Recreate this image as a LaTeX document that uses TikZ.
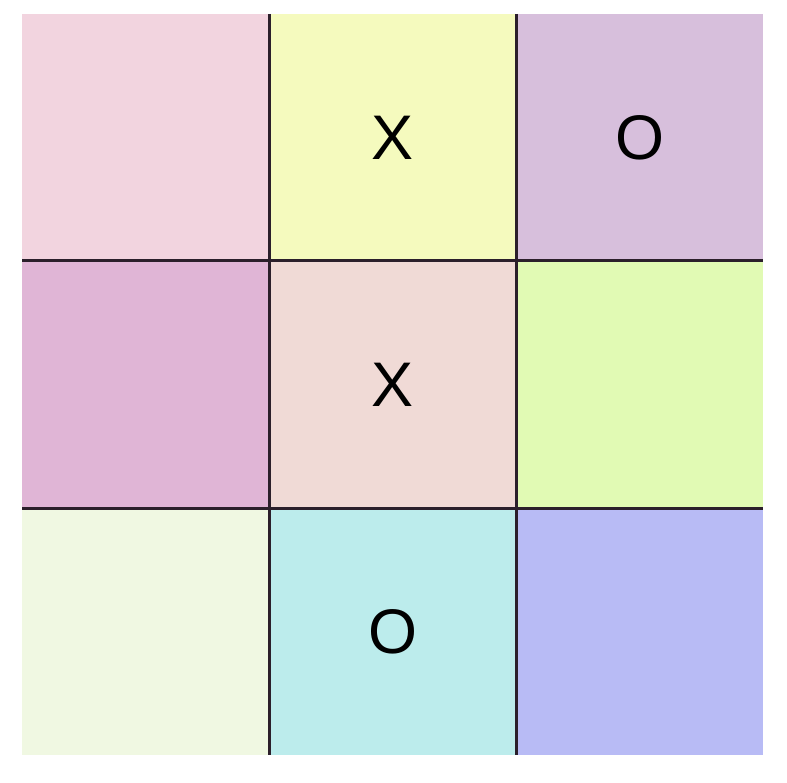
\documentclass[tikz,border=0pt]{standalone}
\usepackage{fontspec}
\setmainfont{Liberation Sans}
\usepackage{tikz}
\usetikzlibrary{positioning}
\definecolor{cellpink}{HTML}{F2D4DF}
\definecolor{cellyellow}{HTML}{F5FABE}
\definecolor{celllilac}{HTML}{D7BFDC}
\definecolor{cellmauve}{HTML}{E0B5D6}
\definecolor{cellrose}{HTML}{F0DAD6}
\definecolor{celllime}{HTML}{E1FAB4}
\definecolor{cellcream}{HTML}{F0F8E2}
\definecolor{cellcyan}{HTML}{BCECEC}
\definecolor{cellblue}{HTML}{B8BBF5}
\definecolor{gridink}{HTML}{2B1F2B}

\begin{document}
\begin{tikzpicture}[x=1pt,y=-1pt,
    cell/.style={minimum size=247pt,inner sep=0pt,outer sep=0pt,
      font=\fontsize{63}{63}\selectfont},
    gridline/.style={gridink,line width=3pt}]
        \useasboundingbox (0,0) rectangle (787,783);
        % top row
        \node[cell,fill=cellpink] (a1) at (145.5,137.5) {};
        \node[cell,fill=cellyellow,right=0pt of a1] (a2) {X};
        \node[cell,fill=celllilac,right=0pt of a2] (a3) {O};
        % middle row
        \node[cell,fill=cellmauve,below=0pt of a1] (b1) {};
        \node[cell,fill=cellrose,right=0pt of b1] (b2) {X};
        \node[cell,fill=celllime,right=0pt of b2] (b3) {};
        % bottom row
        \node[cell,fill=cellcream,below=0pt of b1] (c1) {};
        \node[cell,fill=cellcyan,right=0pt of c1] (c2) {O};
        \node[cell,fill=cellblue,right=0pt of c2] (c3) {};
        % grid lines
        \draw[gridline] (a2.north west) -- (c2.south west);
        \draw[gridline] (a3.north west) -- (c3.south west);
        \draw[gridline] (b1.north west) -- (b3.north east);
        \draw[gridline] (c1.north west) -- (c3.north east);
      \end{tikzpicture}
\end{document}
